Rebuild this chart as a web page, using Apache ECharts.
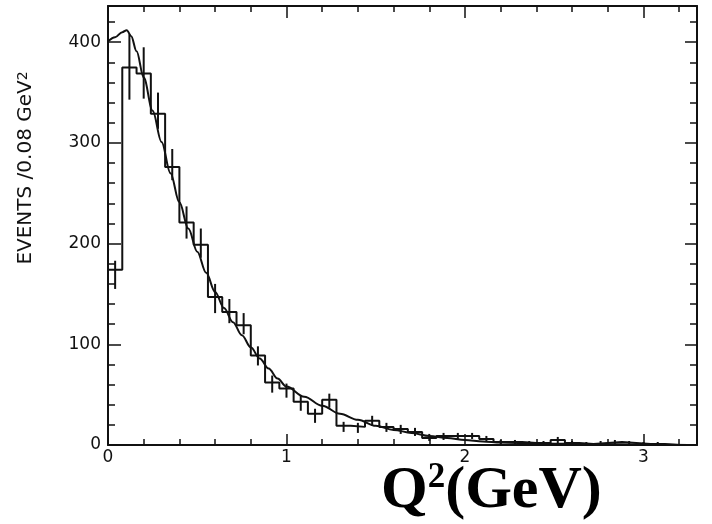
<!DOCTYPE html>
<html>
<head>
<meta charset="utf-8">
<script src="https://cdn.jsdelivr.net/npm/echarts@6/dist/echarts.min.js"></script>
<style>
html,body{margin:0;padding:0;background:#ffffff;}
#c{width:712px;height:524px;}
</style>
</head>
<body>
<div id="c"></div>
<script>
// ---- data ----
const binWidth = 0.08; // GeV^2
const binCounts = [174, 375, 369, 329, 276, 221, 199, 147, 132, 119,
                   89, 62, 56, 43, 31, 45, 19, 18, 24, 18,
                   16, 13, 7, 9, 9, 9, 6, 3, 3, 2,
                   2, 5, 2, 1, 2, 3, 2, 1, 1, 0, 0];
const errLow  = [155, 343, 344, 314, 263, 205, 186, 131, 121, 110,
                 79, 52, 47, 34, 22, 37, 13, 12, 19, 13,
                 11, 9, 4, 5, 5, 6, 3, 1, 1, 0,
                 0, 2, 0, 0, 0, 1, 0, 0, 0, 0, 0];
const errHigh = [183, 408, 395, 350, 294, 237, 215, 160, 145, 131,
                 98, 69, 61, 49, 36, 51, 23, 22, 29, 22,
                 20, 17, 11, 12, 12, 12, 9, 5, 5, 4,
                 4, 8, 4, 3, 4, 5, 4, 3, 3, 0, 0];
const curveQ2  = [0.00, 0.04, 0.08, 0.105, 0.13, 0.16, 0.20, 0.25, 0.30, 0.35,
                  0.40, 0.45, 0.50, 0.55, 0.60, 0.65, 0.70, 0.75, 0.80, 0.85,
                  0.90, 0.95, 1.00, 1.10, 1.20, 1.30, 1.40, 1.50, 1.60, 1.70,
                  1.80, 1.90, 2.00, 2.10, 2.20, 2.40, 2.70, 3.00, 3.30];
const curveVal = [401, 405, 410, 412, 406, 391, 365, 332, 301, 270,
                  241, 215, 192, 171, 152, 136, 122, 109, 97, 86,
                  76, 66, 58, 48, 39, 31, 25, 19, 15, 12,
                  9, 7, 5, 3.5, 2.5, 1.5, 1, 0.5, 0];
const xMin = 0, xMax = 3.3, xMajor = 1, xMinor = 0.2;
const yMin = 0, yMax = 436, yMajor = 100, yMinor = 20;
const yAxisTitle = 'EVENTS /0.08 GeV';
const xAxisTitle = ['Q', '2', '(GeV)'];

// ---- build series data ----
const histData = binCounts.map((v, i) => [i * binWidth, v]);
histData.push([binCounts.length * binWidth, binCounts[binCounts.length - 1]]);
const errData = binCounts.map((v, i) => [(i + 0.5) * binWidth, errLow[i], errHigh[i]]);
const curveData = curveQ2.map((q, i) => [q, curveVal[i]]);

const ink = '#111';
const tickFont = {fontFamily: 'DejaVu Sans', fontSize: 17, color: ink};

function xAxisDef(pos, interval, len, showLine, showLabel) {
  return {
    type: 'value', position: pos, min: xMin, max: xMax, interval: interval,
    axisLine: {show: showLine, onZero: false, lineStyle: {color: ink, width: 2}},
    axisTick: {show: true, inside: true, length: len, lineStyle: {color: ink, width: 1.5}},
    axisLabel: Object.assign({show: showLabel, margin: 4,
      formatter: v => (Math.abs(v - Math.round(v)) < 1e-6 ? String(Math.round(v)) : '')}, tickFont),
    splitLine: {show: false}
  };
}
function yAxisDef(pos, interval, len, showLine, showLabel) {
  return {
    type: 'value', position: pos, min: yMin, max: yMax, interval: interval,
    axisLine: {show: showLine, onZero: false, lineStyle: {color: ink, width: 2}},
    axisTick: {show: true, inside: true, length: len, lineStyle: {color: ink, width: 1.5}},
    axisLabel: Object.assign({show: showLabel, margin: 7,
      formatter: v => (v % 100 === 0 ? String(v) : '')}, tickFont),
    splitLine: {show: false}
  };
}

const chart = echarts.init(document.getElementById('c'), null, {renderer: 'canvas'});
chart.setOption({
  backgroundColor: '#ffffff',
  animation: false,
  grid: {left: 108, right: 15, top: 6, bottom: 79, containLabel: false},
  xAxis: [
    xAxisDef('bottom', xMajor, 11, true, true),
    xAxisDef('top', xMajor, 12, true, false),
    xAxisDef('top', xMinor, 6, false, false),
    xAxisDef('bottom', xMinor, 6, false, false)
  ],
  yAxis: [
    yAxisDef('left', yMajor, 13, true, true),
    yAxisDef('right', yMajor, 12, true, false),
    yAxisDef('right', yMinor, 7, false, false),
    yAxisDef('left', yMinor, 7, false, false)
  ],
  graphic: [
    {
      type: 'text', x: 26, y: 168, rotation: Math.PI / 2,
      style: {
        text: yAxisTitle + '{s|2}',
        fontFamily: 'DejaVu Sans', fontSize: 20, fill: ink,
        align: 'center', verticalAlign: 'middle',
        rich: {s: {fontFamily: 'DejaVu Sans', fontSize: 14, verticalAlign: 'top', fill: ink}}
      }
    },
    {
      type: 'text', left: 381, top: 460,
      style: {
        text: '{a|' + xAxisTitle[0] + '}{b|' + xAxisTitle[1] + '}{a|' + xAxisTitle[2] + '}',
        fill: '#000',
        rich: {
          a: {fontFamily: 'Liberation Serif', fontWeight: 'bold', fontSize: 60, lineHeight: 62, fill: '#000'},
          b: {fontFamily: 'Liberation Serif', fontWeight: 'bold', fontSize: 35, verticalAlign: 'top', fill: '#000'}
        }
      }
    }
  ],
  series: [
    {
      type: 'line', name: 'data', step: 'end', data: histData,
      xAxisIndex: 0, yAxisIndex: 0, showSymbol: false, symbol: 'none',
      lineStyle: {color: ink, width: 2}, z: 3
    },
    {
      type: 'custom', name: 'errors', data: errData,
      xAxisIndex: 0, yAxisIndex: 0,
      renderItem: function (params, api) {
        const p1 = api.coord([api.value(0), api.value(1)]);
        const p2 = api.coord([api.value(0), api.value(2)]);
        return {type: 'line', shape: {x1: p1[0], y1: p1[1], x2: p2[0], y2: p2[1]},
                style: {stroke: ink, lineWidth: 2}};
      }, z: 4
    },
    {
      type: 'line', name: 'fit', data: curveData, smooth: 0.35, smoothMonotone: 'x',
      xAxisIndex: 0, yAxisIndex: 0, showSymbol: false, symbol: 'none',
      lineStyle: {color: ink, width: 2}, z: 5
    }
  ]
});
</script>
</body>
</html>
